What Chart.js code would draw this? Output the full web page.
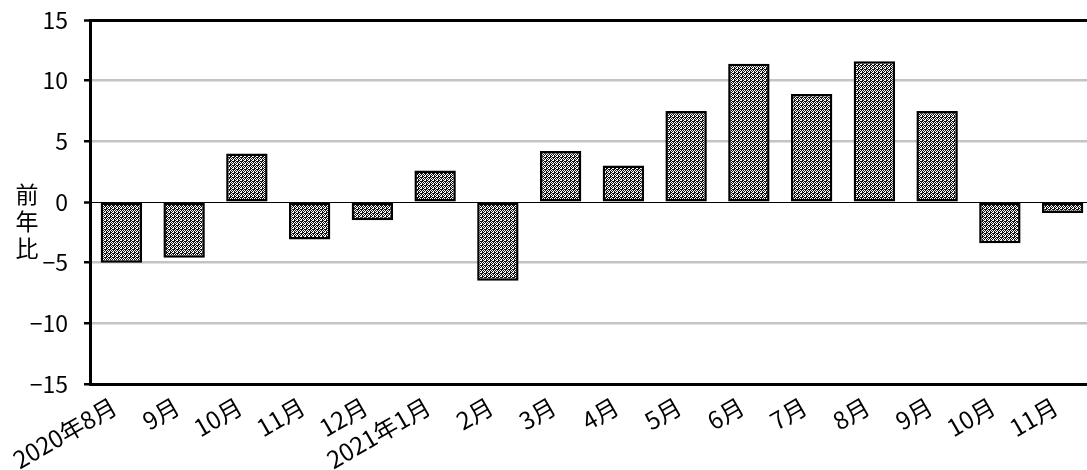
<!DOCTYPE html>
<html>
<head>
<meta charset="utf-8">
<script src="https://cdn.jsdelivr.net/npm/chart.js@4"></script>
<style>
  html, body { margin: 0; padding: 0; background: #fff; overflow: hidden; }
  #wrap { width: 1094px; height: 470px; }
</style>
</head>
<body>
<div id="wrap"><canvas id="barChart" width="1094" height="470"></canvas></div>
<script>
// --- data ---
const months = ['2020年8月', '9月', '10月', '11月', '12月', '2021年1月', '2月', '3月',
                '4月', '5月', '6月', '7月', '8月', '9月', '10月', '11月'];
const yoyValues = [-5.0, -4.6, 4.0, -3.1, -1.5, 2.6, -6.5, 4.2,
                   3.0, 7.5, 11.4, 8.9, 11.6, 7.5, -3.4, -0.9];
const yTicks = [-15, -10, -5, 0, 5, 10, 15];
const yTitle = ['前', '年', '比'];

const FONT = "'Noto Sans CJK JP', 'Noto Sans', sans-serif";

// checker + diagonal fill like the original hatch
function makePattern() {
    const tile = document.createElement('canvas');
    tile.width = 8; tile.height = 8;
    const t = tile.getContext('2d');
    t.fillStyle = '#111';
    t.fillRect(0, 0, 8, 8);
    t.fillStyle = '#fff';
    for (let y = 0; y < 8; y++) {
        for (let x = 0; x < 8; x++) {
            let white;
            if (y % 4 < 2) {
                white = (x + y) % 4 === 0 || (x + y) % 4 === 1 && y % 4 === 0;
            } else {
                white = (x + y) % 2 === 0;
            }
            if (white) t.fillRect(x, y, 1, 1);
        }
    }
    return t.createPattern(tile, 'repeat');
}

// vertical stacked y axis title
const yTitlePlugin = {
    id: 'yTitle',
    afterDraw(chart) {
        const ctx = chart.ctx;
        ctx.save();
        ctx.fillStyle = '#000';
        ctx.font = '23px ' + FONT;
        ctx.textAlign = 'center';
        ctx.textBaseline = 'middle';
        yTitle.forEach((ch, i) => ctx.fillText(ch, 27, 194 + i * 27));
        ctx.restore();
    }
};

const ctx = document.getElementById('barChart').getContext('2d');
window.barChart = new Chart(ctx, {
    type: 'bar',
    data: {
        labels: months,
        datasets: [{
            data: yoyValues,
            backgroundColor: makePattern(),
            borderColor: '#000',
            borderWidth: 2.5,
            borderSkipped: false,
            categoryPercentage: 1.0,
            barPercentage: 0.66
        }]
    },
    options: {
        responsive: false,
        animation: false,
        devicePixelRatio: 1,
        layout: { padding: { left: 0, right: 0, top: 20, bottom: 0 } },
        plugins: {
            legend: { display: false },
            tooltip: { enabled: false }
        },
        scales: {
            x: {
                grid: { display: false },
                border: { display: true, color: '#000', width: 3 },
                ticks: {
                    color: '#000',
                    font: { size: 24, family: FONT },
                    minRotation: 30,
                    maxRotation: 30,
                    autoSkip: false,
                    padding: 0,
                    labelOffset: -7
                },
                afterFit: function (scale) {
                    scale.height = 86;
                    scale.paddingLeft = 0;
                    scale.paddingRight = 0;
                }
            },
            y: {
                min: -15,
                max: 15,
                afterBuildTicks: function (scale) {
                    scale.ticks = yTicks.map(v => ({ value: v }));
                },
                grid: {
                    color: function (c) {
                        const v = c.tick && c.tick.value;
                        if (v === 0 || v === 15) return '#000';
                        return '#c4c4c4';
                    },
                    lineWidth: function (c) {
                        const v = c.tick && c.tick.value;
                        if (v === 0) return 1;
                        if (v === 15) return 3;
                        return 2.5;
                    },
                    tickColor: '#000',
                    tickLength: 6,
                    tickWidth: 2.5
                },
                border: { display: true, color: '#000', width: 3 },
                ticks: {
                    color: '#000',
                    font: { size: 23, family: FONT },
                    padding: 16,
                    callback: function (value) {
                        return value < 0 ? '\u2212' + Math.abs(value) : String(value);
                    }
                },
                afterFit: function (scale) {
                    scale.width = 90;
                    scale.paddingTop = 0;
                    scale.paddingBottom = 0;
                }
            }
        }
    },
    plugins: [yTitlePlugin]
});
</script>
</body>
</html>
